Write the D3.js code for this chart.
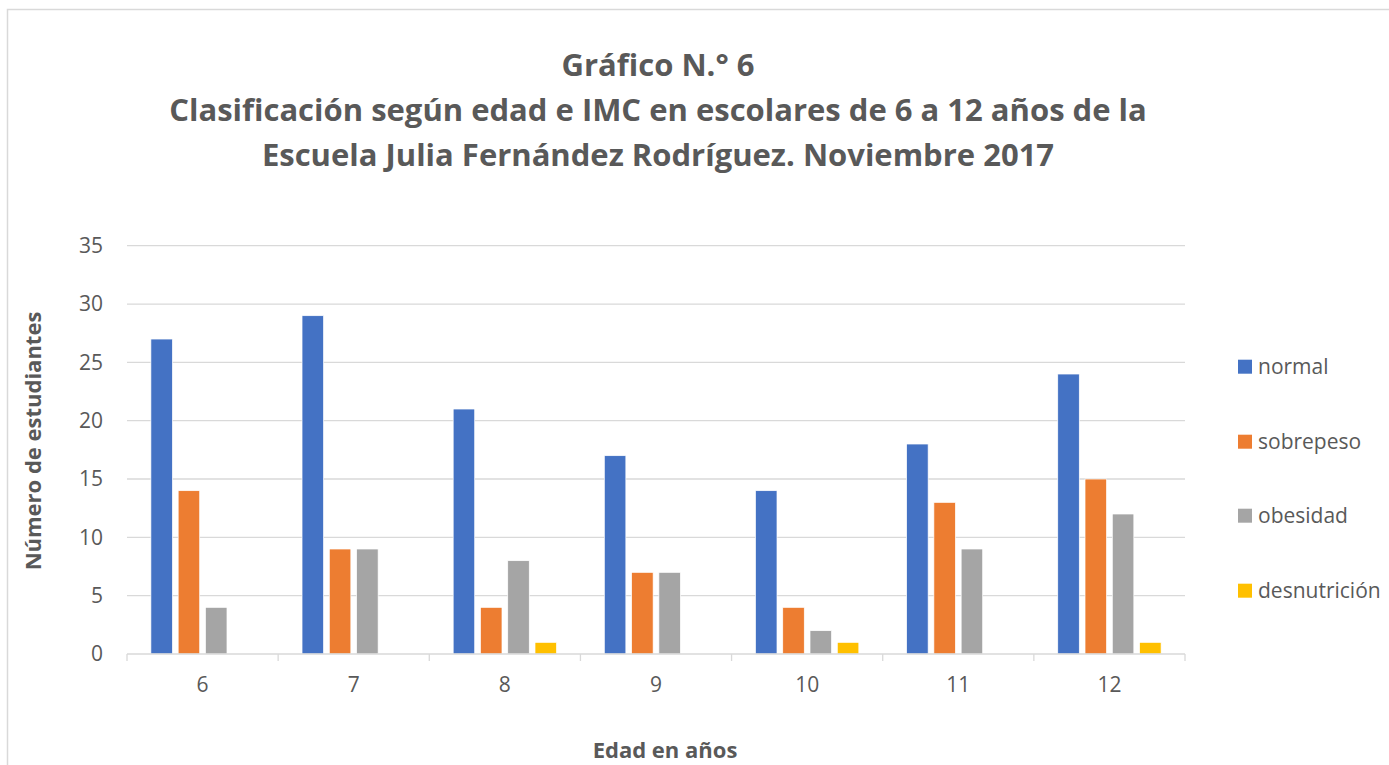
<!DOCTYPE html>
<html lang="es">
<head>
<meta charset="utf-8">
<title>Gráfico N.° 6</title>
<script src="https://cdn.jsdelivr.net/npm/d3@7"></script>
<style>
  html, body { margin: 0; padding: 0; background: #fff; }
  svg { display: block; font-family: "Open Sans", "Noto Sans", sans-serif; }
</style>
</head>
<body>
<svg id="chart" width="1389" height="765"></svg>
<script>
// datos
const ages = ["6", "7", "8", "9", "10", "11", "12"];
const seriesNames = ["normal", "sobrepeso", "obesidad", "desnutrición"];
const normal = [27, 29, 21, 17, 14, 18, 24];
const sobrepeso = [14, 9, 4, 7, 4, 13, 15];
const obesidad = [4, 9, 8, 7, 2, 9, 12];
const desnutricion = [0, 0, 1, 0, 1, 0, 1];
const yTicks = [0, 5, 10, 15, 20, 25, 30, 35];
const titleLines = [
  "Gráfico N.° 6",
  "Clasificación según edad e IMC en escolares de 6 a 12 años de la",
  "Escuela Julia Fernández Rodríguez. Noviembre 2017"
];

const values = [normal, sobrepeso, obesidad, desnutricion];
const colors = ["#4472C4", "#ED7D31", "#A5A5A5", "#FFC000"];
const textColor = "#595959";

const svg = d3.select("#chart");

// marco del grafico
svg.append("rect")
  .attr("x", 7.5).attr("y", 9.5)
  .attr("width", 1400).attr("height", 800)
  .attr("fill", "none").attr("stroke", "#d9d9d9").attr("stroke-width", 1.5);

const plot = { left: 127, right: 1185, top: 245.7, bottom: 654 };

const x0 = d3.scaleBand().domain(ages).range([plot.left, plot.right]);
const bw = x0.bandwidth();
const x1 = d3.scaleBand().domain(seriesNames)
  .range([bw * 0.158, bw * 0.842]).paddingInner(0.21);
const y = d3.scaleLinear().domain([0, 35]).range([plot.bottom, plot.top]);

// lineas de cuadricula
svg.append("g").selectAll("line")
  .data(yTicks.filter(d => d > 0))
  .join("line")
    .attr("x1", plot.left).attr("x2", plot.right)
    .attr("y1", d => y(d)).attr("y2", d => y(d))
    .attr("stroke", "#d9d9d9").attr("stroke-width", 1.3);

// etiquetas eje y
svg.append("g").selectAll("text")
  .data(yTicks)
  .join("text")
    .attr("x", 103).attr("y", d => y(d))
    .attr("dy", "0.35em")
    .attr("text-anchor", "end")
    .attr("font-size", 21)
    .attr("fill", textColor)
    .text(d => d);

// barras
const groups = svg.append("g").selectAll("g")
  .data(ages)
  .join("g")
    .attr("transform", d => `translate(${x0(d)},0)`);

groups.selectAll("rect")
  .data((d, i) => seriesNames.map((s, j) => ({ s, v: values[j][i], c: colors[j] })))
  .join("rect")
    .attr("x", d => x1(d.s))
    .attr("width", x1.bandwidth())
    .attr("y", d => y(d.v))
    .attr("height", d => y(0) - y(d.v))
    .attr("fill", d => d.c)
    .attr("stroke", d => d.v > 0 ? "#fff" : "none")
    .attr("stroke-width", 0.7);

// eje x
const xAxis = svg.append("g");
xAxis.append("line")
  .attr("x1", plot.left).attr("x2", plot.right)
  .attr("y1", plot.bottom).attr("y2", plot.bottom)
  .attr("stroke", "#d9d9d9").attr("stroke-width", 1.3);
xAxis.selectAll("line.tick")
  .data(ages.map(a => x0(a)).concat([plot.right]))
  .join("line")
    .attr("class", "tick")
    .attr("x1", d => d).attr("x2", d => d)
    .attr("y1", plot.bottom).attr("y2", plot.bottom + 7)
    .attr("stroke", "#d9d9d9").attr("stroke-width", 1.3);
xAxis.selectAll("text")
  .data(ages)
  .join("text")
    .attr("x", d => x0(d) + bw / 2)
    .attr("y", 685)
    .attr("dy", "0.35em")
    .attr("text-anchor", "middle")
    .attr("font-size", 21)
    .attr("fill", textColor)
    .text(d => d);

// titulos de ejes
svg.append("text")
  .attr("x", 665).attr("y", 750)
  .attr("dy", "0.35em")
  .attr("text-anchor", "middle")
  .attr("font-size", 22).attr("font-weight", "bold")
  .attr("fill", textColor)
  .text("Edad en años");

svg.append("text")
  .attr("transform", "translate(33,441) rotate(-90)")
  .attr("dy", "0.35em")
  .attr("text-anchor", "middle")
  .attr("font-size", 22).attr("font-weight", "bold")
  .attr("fill", textColor)
  .text("Número de estudiantes");

// titulo
svg.append("g").selectAll("text")
  .data(titleLines)
  .join("text")
    .attr("x", 658)
    .attr("y", (d, i) => 65 + i * 45)
    .attr("dy", "0.35em")
    .attr("text-anchor", "middle")
    .attr("font-size", 31).attr("font-weight", "bold")
    .attr("fill", textColor)
    .text(d => d);

// leyenda
const legendY = [366.7, 441.7, 515.7, 590.7];
const legend = svg.append("g").selectAll("g")
  .data(seriesNames)
  .join("g")
    .attr("transform", (d, i) => `translate(1238,${legendY[i]})`);
legend.append("rect")
  .attr("x", 0).attr("y", -7)
  .attr("width", 14).attr("height", 14)
  .attr("fill", (d, i) => colors[i]);
legend.append("text")
  .attr("x", 20).attr("dy", "0.35em")
  .attr("font-size", 21)
  .attr("fill", textColor)
  .text(d => d);
</script>
</body>
</html>
